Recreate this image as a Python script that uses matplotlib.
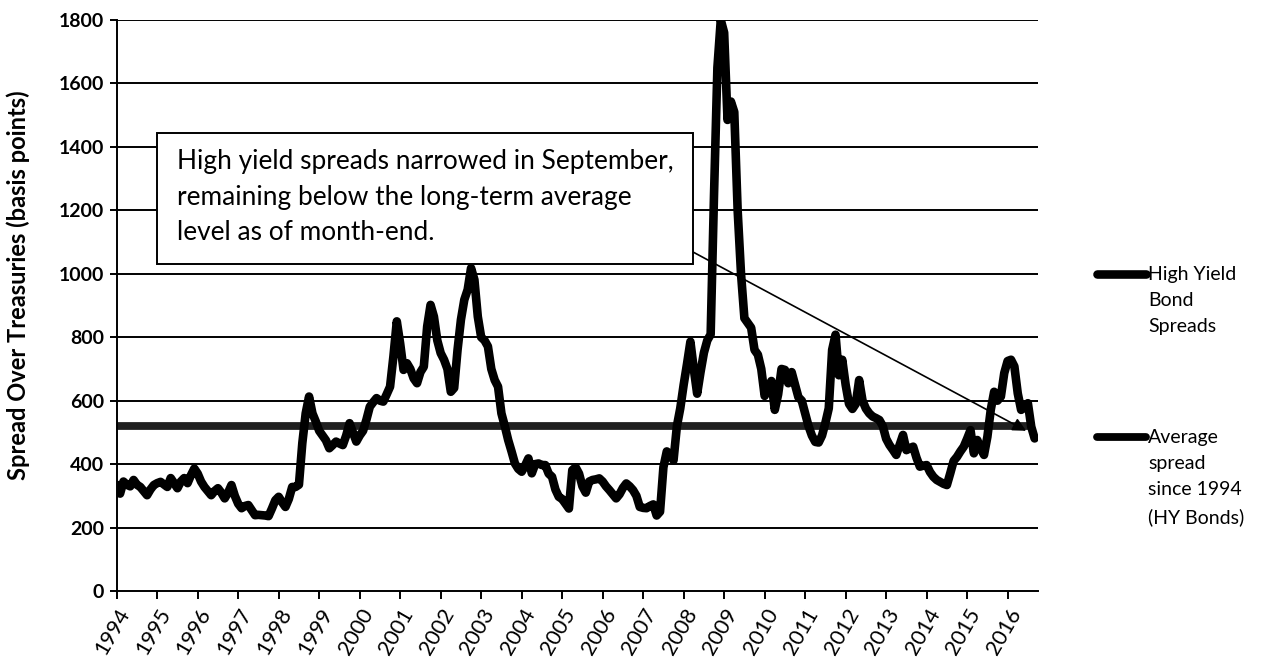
import numpy as np
import matplotlib
matplotlib.use("Agg")
import matplotlib.pyplot as plt
from matplotlib.lines import Line2D
from matplotlib.patches import Rectangle

plt.rcParams["font.family"] = ["Lato", "DejaVu Sans"]

# monthly high yield spread (bp), Jan 1994 .. Sep 2016, one row per year
hy_spread = [
    335, 307, 345, 335, 330, 350, 335, 328, 315, 302, 320, 334,   # 1994
    340, 344, 336, 328, 356, 340, 324, 345, 356, 340, 365, 386,   # 1995
    370, 345, 328, 315, 302, 315, 324, 310, 292, 310, 334, 300,   # 1996
    275, 261, 268, 271, 255, 239, 240, 239, 238, 236, 260, 286,   # 1997
    297, 280, 265, 290, 328, 328, 335, 466, 560, 613, 560, 534,   # 1998
    505, 490, 475, 450, 460, 471, 465, 460, 490, 529, 500, 471,   # 1999
    490, 505, 540, 581, 595, 608, 600, 597, 620, 644, 740, 850,   # 2000
    780, 697, 718, 700, 670, 655, 690, 707, 834, 902, 865, 790,   # 2001
    750, 729, 700, 628, 640, 760, 855, 918, 950, 1018, 981, 865,  # 2002
    800, 790, 771, 700, 665, 644, 560, 520, 476, 440, 402, 385,   # 2003
    376, 395, 418, 371, 400, 402, 397, 397, 370, 360, 320, 297,   # 2004
    290, 275, 260, 381, 390, 370, 330, 310, 345, 350, 352, 355,   # 2005
    345, 330, 318, 305, 292, 305, 325, 339, 330, 318, 300, 265,   # 2006
    262, 261, 268, 273, 238, 250, 390, 440, 430, 412, 520, 576,   # 2007
    650, 716, 786, 700, 622, 690, 751, 790, 809, 1250, 1650, 1800,  # 2008
    1760, 1485, 1543, 1510, 1200, 1000, 860, 845, 830, 760, 745, 700,  # 2009
    615, 640, 662, 571, 620, 700, 697, 655, 690, 650, 611, 600,   # 2010
    560, 520, 490, 470, 468, 490, 530, 576, 760, 808, 680, 729,   # 2011
    650, 590, 574, 590, 665, 600, 575, 560, 550, 545, 539, 520,   # 2012
    480, 460, 445, 429, 460, 492, 444, 450, 455, 420, 392, 395,   # 2013
    397, 375, 360, 350, 344, 338, 334, 371, 410, 423, 440, 455,   # 2014
    480, 507, 434, 476, 450, 429, 486, 571, 628, 600, 613, 687,   # 2015
    725, 729, 708, 623, 571, 580, 592, 518, 481,                  # 2016
]
avg_spread = 520
years = list(range(1994, 2017))
y_ticks = list(range(0, 1801, 200))

series_names = ["High Yield\nBond\nSpreads", "Average\nspread\nsince 1994\n(HY Bonds)"]
note = ("High yield spreads narrowed in September,\n"
        "remaining below the long-term average\n"
        "level as of month-end.")

W, H = 1261, 670
fig = plt.figure(figsize=(W / 100, H / 100), dpi=100)
ax = fig.add_axes([116.7 / W, 1 - 591 / H, 921.3 / W, 571 / H])

x = 1994 + np.arange(len(hy_spread)) / 12
ax.set_xlim(1994, 1994 + 273 / 12)
ax.set_ylim(0, 1800)

for v in y_ticks[1:]:
    ax.axhline(v, color="black", lw=1.4, zorder=1)

ax.plot(x, [avg_spread] * len(x), color="#202020", lw=5.6, zorder=2,
        solid_capstyle="butt")
ax.plot(x, hy_spread, color="black", lw=6.2, zorder=3,
        solid_joinstyle="round", solid_capstyle="round")

for s in ["top", "right"]:
    ax.spines[s].set_visible(False)
for s in ["left", "bottom"]:
    ax.spines[s].set_linewidth(1.4)

ax.set_yticks(y_ticks)
ax.set_yticklabels([str(v) for v in y_ticks], fontsize=14, fontweight="bold")
ax.set_xticks(years)
ax.set_xticklabels([str(y) for y in years], fontsize=15.5, rotation=60,
                   ha="right", va="top", rotation_mode="anchor")
ax.tick_params(axis="y", length=5, width=1.4, pad=4)
ax.tick_params(axis="x", length=6, width=1.4, pad=4)

ax.set_ylabel("Spread Over Treasuries (basis points)", fontsize=17,
              fontweight="bold")
ax.yaxis.set_label_coords(-0.094, 0.535)

# callout box with arrow down to the latest value
bx0, bx1 = (157 - 116.7) / 921.3, (693 - 116.7) / 921.3
by0, by1 = (591 - 264) / 571, (591 - 133) / 571
ax.add_patch(Rectangle((bx0, by0), bx1 - bx0, by1 - by0, transform=ax.transAxes,
                       facecolor="white", edgecolor="black", lw=1.4, zorder=5))
ax.text((177 - 116.7) / 921.3, (591 - 149) / 571, note, transform=ax.transAxes,
        fontsize=18.9, va="top", ha="left", linespacing=1.53, zorder=6)
ax.annotate("", xy=(1994 + 269.5 / 12, 505), xycoords="data",
            xytext=(bx1, (591 - 252) / 571), textcoords="axes fraction",
            arrowprops=dict(arrowstyle="-|>", color="black", lw=1.2,
                            mutation_scale=20, shrinkA=0, shrinkB=0),
            zorder=4)

# legend drawn at the right, line sample aligned with first text line
for name, lw, y_px in [(series_names[0], 6.2, 274), (series_names[1], 5.6, 437)]:
    fig.add_artist(Line2D([1097 / W, 1146 / W], [1 - y_px / H] * 2, color="black",
                          lw=lw, solid_capstyle="round"))
    fig.text(1148 / W, 1 - (y_px - 8) / H, name, fontsize=14, va="top",
             ha="left", linespacing=1.66)

fig.savefig("out.png", dpi=100)
